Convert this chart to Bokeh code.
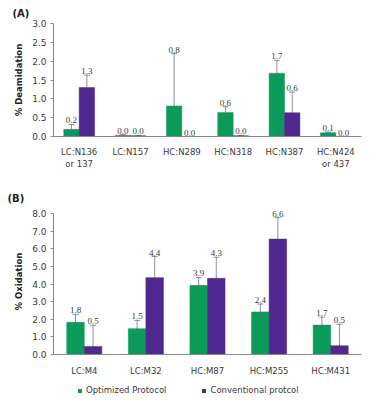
from bokeh.plotting import figure
from bokeh.models import (ColumnDataSource, FactorRange, Range1d, Whisker, TeeHead, LabelSet,
                          NumeralTickFormatter, Legend, LegendItem, Title, SingleIntervalTicker)
from bokeh.transform import dodge
from bokeh.layouts import column
from bokeh.embed import file_html
from bokeh.resources import INLINE

# ---------------- data ----------------
cats_A = ["LC:N136\nor 137", "LC:N157", "HC:N289", "HC:N318", "HC:N387", "HC:N424\nor 437"]
opt_A = [0.19, 0.03, 0.81, 0.64, 1.68, 0.10]
opt_A_err = [0.13, 0.02, 1.39, 0.15, 0.34, 0.02]
conv_A = [1.30, 0.02, 0.0, 0.02, 0.63, 0.0]
conv_A_err = [0.33, 0.01, 0.0, 0.01, 0.55, 0.0]

cats_B = ["LC:M4", "LC:M32", "HC:M87", "HC:M255", "HC:M431"]
opt_B = [1.83, 1.47, 3.93, 2.42, 1.67]
opt_B_err = [0.45, 0.47, 0.45, 0.45, 0.46]
conv_B = [0.46, 4.37, 4.33, 6.56, 0.50]
conv_B_err = [1.20, 1.20, 1.20, 1.22, 1.22]

series_names = ["Optimized Protocol", "Conventional protcol"]

GREEN = "#0b9a5a"
PURPLE = "#51288f"
FONT = "DejaVu Sans"
TXT = "#3a3a3a"
AXC = "#8a8a8a"


def make_panel(cats, opt, opt_err, conv, conv_err, ymax, ytop, ystep, ylabel, tag,
               height, left, right, top, bottom, bw, both_sides, xstand):
    p = figure(x_range=FactorRange(factors=cats), y_range=Range1d(0, ytop),
               width=375, height=height, output_backend="svg", toolbar_location=None,
               min_border_left=left, min_border_right=right,
               min_border_top=top, min_border_bottom=bottom)
    p.title = Title(text=tag, align="left", offset=-(left - 7), text_font=FONT,
                    text_font_size="10px", text_font_style="bold", text_color="#222222")
    p.outline_line_color = None
    p.xgrid.grid_line_color = None
    p.ygrid.grid_line_color = None

    for vals, errs, off, col in ((opt, opt_err, -bw / 2, GREEN), (conv, conv_err, bw / 2, PURPLE)):
        upper = [v + e for v, e in zip(vals, errs)]
        if both_sides:
            lower = [max(0.0, v - e) for v, e in zip(vals, errs)]
        else:
            lower = list(vals)
        labels = ["%.1f" % v for v in vals]
        src = ColumnDataSource(dict(cat=cats, val=vals, upper=upper, lower=lower, lab=labels))
        p.vbar(x=dodge("cat", off, range=p.x_range), top="val", width=bw, source=src,
               fill_color=col, line_color=col, line_width=0.5)
        head = dict(size=6, line_color="#555555", line_alpha=0.65, line_width=1)
        w = Whisker(base=dodge("cat", off, range=p.x_range), upper="upper", lower="lower",
                    source=src, line_color="#555555", line_alpha=0.65, line_width=1,
                    upper_head=TeeHead(**head),
                    lower_head=(TeeHead(**head) if both_sides else None))
        p.add_layout(w)
        ls = LabelSet(x=dodge("cat", off, range=p.x_range), y="upper", text="lab", source=src,
                      text_align="center", text_baseline="bottom", y_offset=1,
                      text_font=FONT, text_font_size="9px", text_color=TXT)
        p.add_layout(ls)

    xa = p.xaxis[0]
    xa.axis_line_color = AXC
    xa.major_tick_line_color = None
    xa.minor_tick_line_color = None
    xa.major_label_text_font = FONT
    xa.major_label_text_font_size = "8.5px"
    xa.major_label_text_color = TXT
    xa.major_label_standoff = xstand

    ya = p.yaxis[0]
    ya.bounds = (0, ymax)
    ya.ticker = SingleIntervalTicker(interval=ystep)
    ya.formatter = NumeralTickFormatter(format="0.0")
    ya.axis_line_color = AXC
    ya.major_tick_line_color = AXC
    ya.major_tick_out = 3
    ya.major_tick_in = 0
    ya.minor_tick_line_color = None
    ya.major_label_text_font = FONT
    ya.major_label_text_font_size = "9px"
    ya.major_label_text_color = TXT
    ya.major_label_standoff = 3
    ya.axis_label = ylabel
    ya.axis_label_text_font = FONT
    ya.axis_label_text_font_size = "8.5px"
    ya.axis_label_text_font_style = "bold"
    ya.axis_label_text_color = "#222222"
    ya.axis_label_standoff = 5
    return p


pA = make_panel(cats_A, opt_A, opt_A_err, conv_A, conv_A_err, 3.0, 3.0, 0.5, "% Deamidation", "(A)",
                185, 48, 14, 21, 49, 0.3, False, 4)
pB = make_panel(cats_B, opt_B, opt_B_err, conv_B, conv_B_err, 8.0, 8.3, 1.0, "% Oxidation", "(B)",
                195, 53, 13, 22, 26, 0.285, True, 5)

# legend strip below panel B (its bars sit outside the visible range; only the legend shows)
pL = figure(x_range=FactorRange(factors=cats_B), y_range=Range1d(-20, -19), width=375, height=20,
            output_backend="svg", toolbar_location=None, min_border=0,
            min_border_left=0, min_border_right=0, min_border_top=0, min_border_bottom=0,
            x_axis_location=None, y_axis_location=None)
pL.outline_line_color = None
pL.xgrid.grid_line_color = None
pL.ygrid.grid_line_color = None
leg_renderers = [pL.vbar(x=cats_B, top=vals, width=0.001, fill_color=c, line_color=None)
                 for vals, c in ((opt_B, GREEN), (conv_B, PURPLE))]
items = [LegendItem(label=series_names[i], renderers=[leg_renderers[i]]) for i in range(2)]
lg = Legend(items=items, orientation="horizontal", location=(24, 5),
            glyph_width=5, glyph_height=5, label_text_font=FONT,
            label_text_font_size="8.5px", label_text_color=TXT,
            label_standoff=4, spacing=35, padding=0, margin=0,
            label_height=10, border_line_color=None, background_fill_alpha=0)
pL.add_layout(lg, "center")

layout = column(pA, pB, pL, spacing=0)
open("out.html", "w").write(file_html(layout, INLINE))
